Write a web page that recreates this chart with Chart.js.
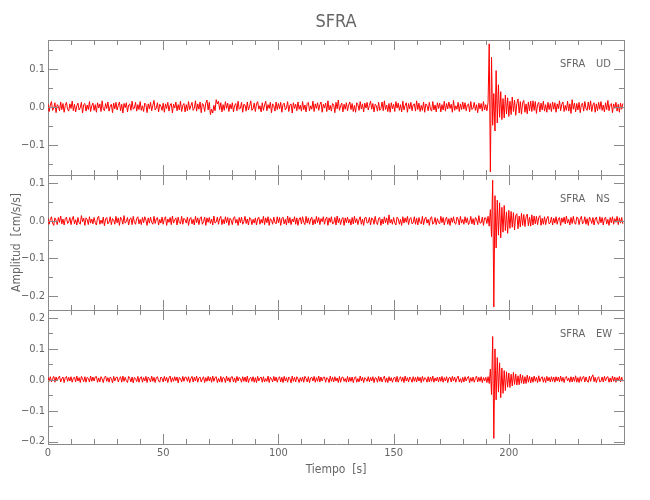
<!DOCTYPE html>
<html>
<head>
<meta charset="utf-8">
<script src="https://cdn.jsdelivr.net/npm/chart.js@4.4.1/dist/chart.umd.min.js"></script>
<style>
    body { margin: 0; background: #fff; }
    #wrap { position: relative; width: 650px; height: 500px; }
    #wrap canvas { position: absolute; left: 0; }
</style>
</head>
<body>
<div id="wrap">
    <canvas id="chartUD" width="650" height="176" style="top:0px"></canvas>
    <canvas id="chartNS" width="650" height="137" style="top:174px"></canvas>
    <canvas id="chartEW" width="650" height="191" style="top:309px"></canvas>
</div>
<script>
// traces in 0.001 cm/s/s, one sample every 0.5 s (one row = 10 s)
const sampleStep = 0.5;
const station = 'SFRA';

const udTrace = [
    8, -12, 5, 14, -9, -3, 11, -15, 6, 2, -10, 13, -7, 9, -14, 4, 12, -6, -11, 8,
    -4, 15, -10, 7, -13, 3, 10, -8, -2, 12, -16, 6, 9, -11, 5, -7, 14, -12, 3, 10,
    -9, 6, -14, 11, -3, 8, -12, 16, -6, -10, 9, -4, 13, -11, 2, 7, -15, 10, -5, 12,
    -8, 4, 13, -10, 7, -16, 9, -2, 11, -13, 5, 8, -9, 15, -6, -3, 12, -11, 6, -7,
    14, -9, 3, -12, 10, 6, -15, 8, -5, 12, -10, 4, 17, -8, -3, 11, -13, 7, 2, -9,
    10, -14, 8, -4, 12, -11, 5, 9, -16, 7, -3, 13, -10, 6, -8, 15, -12, 4, 9, -13,
    6, -10, 14, -7, 3, 12, -9, -4, 16, -11, 8, -6, 13, -15, 9, 5, -12, 10, 18, -8,
    12, -20, -6, -16, 4, -10, 19, 8, 15, -7, 11, -13, 6, -9, 14, -4, 10, -12, 7, -5,
    11, -13, 4, 9, -10, 15, -6, -3, 12, -14, 7, 5, -11, 13, -8, 2, 16, -9, -5, 10,
    -12, 8, 14, -6, 3, -13, 11, -9, 5, 15, -10, 6, -4, 12, -15, 8, 3, -11, 13, -7,
    9, -5, 12, -14, 6, 10, -8, -3, 14, -12, 5, 8, -16, 11, -4, 7, -10, 13, -6, 4,
    -11, 14, -7, 5, -13, 9, 12, -10, 3, -6, 15, -12, 8, -4, 11, -9, 6, 13, -14, 7,
    -3, 10, -12, 16, -8, 4, -11, 9, 6, -15, 12, -5, 18, -9, 3, 10, -13, 7, -6, 11,
    -10, 5, 13, -7, 9, -12, 4, -14, 11, 6, -9, 14, -5, 8, -13, 10, -3, 12, -8, 4,
    15, -6, 9, -13, 7, 3, -11, 12, -9, -4, 13, -10, 16, -7, 5, -12, 9, -14, 11, -5,
    7, -12, 14, -3, 10, -9, 6, -13, 15, -8, 4, 11, -14, 9, -5, 12, -10, 6, 8, -11,
    16, -7, 10, -12, 4, -9, 13, -14, 8, 3, -10, 12, -6, -11, 14, -8, 5, -13, 11, -4,
    10, -13, 6, -8, 15, -11, 9, -5, 13, -4, 7, -14, 17, -9, 3, -6, 12, -12, 8, -7,
    13, -6, 11, -10, 5, 8, -13, 14, -7, -3, 12, -9, 6, -15, 10, -5, 9, -11, 14, -8,
    6, -10, 12, 165, -170, 130, -48, 35, -63, 95, -42, 58, -27, 40, -33, 22, -29, 31, -18, 24,
    -25, 15, -20, 26, -12, 18, -22, 9, 21, -16, 14, -19, 11, 17, -14, 8, -18, 13, -10, 15,
    -12, 16, -9, 14, -17, 7, 12, -13, 10, -8, 15, -11, 6, -14, 12, -7, 9, -12, 13, -6,
    11, -14, 8, -5, 16, -10, 7, 13, -12, 4, -9, 15, -11, 8, -17, 19, -6, 10, -13, 9,
    -8, 12, -15, 6, 10, -11, 14, -4, -9, 13, -7, 16, -12, 5, 11, -14, 8, -10, 12, -6,
    14, -9, 5, -13, 11, -7, 17, -10, 6, 9, -15, 8, -4, 12, -11, 7, -14, 10, -6, 9
];

const nsTrace = [
    7, -9, 4, 11, -6, -12, 8, 2, -10, 9, -4, 13, -8, 5, -11, 6, 10, -7, -3, 9,
    -10, 5, 12, -8, 3, -11, 9, -5, -9, 14, -2, 7, -12, 8, 4, -10, 11, -6, 5, -8,
    9, -4, -11, 8, 12, -9, 2, -7, 10, -13, 5, 9, -8, -3, 11, -10, 6, 3, -9, 12,
    -5, 8, -12, 10, 4, -9, 14, -6, -2, 9, -11, 5, 8, -10, 12, -4, -9, 7, 11, -8,
    4, -10, 9, -5, 11, 2, -12, 8, -6, 10, -4, -9, 12, -7, 5, 9, -11, 4, -6, 10,
    -9, 6, 11, -12, 5, -4, 9, -10, 13, -6, 3, 8, -11, 10, -5, -8, 12, -9, 7, 3,
    -6, 10, -12, 5, 9, -8, 4, -11, 12, -5, 8, -10, 6, 11, -9, -2, 10, -12, 8, -4,
    9, -7, 5, -11, 13, -6, -3, 10, -9, 6, 12, -10, 4, -8, 11, -5, 9, -12, 7, 2,
    -10, 8, 11, -6, 4, -12, 9, -5, 10, -9, -2, 12, -7, 5, -11, 9, 6, -10, 4, -6,
    8, -11, 5, 10, -9, 4, -6, 12, -10, 8, -5, 11, -12, 6, 2, -9, 10, -4, -8, 11,
    -5, 9, -12, 6, 10, -8, 4, -11, 13, -6, 9, -10, 5, -3, 11, -9, 8, -12, 5, 9,
    -8, 11, -4, -10, 12, -6, 8, -9, 5, 10, -11, 4, -8, 12, -5, 9, -10, 6, -2, 11,
    -9, 5, 10, -12, 8, -4, 11, -8, -6, 9, -11, 13, -5, 7, -10, 4, 9, -12, 8, -5,
    10, -6, 4, -11, 9, -8, 12, -5, 6, -10, 3, 11, -9, 5, -12, 8, 10, -6, -4, 9,
    -11, 8, 5, -9, 12, -4, -10, 7, 9, -12, 5, -8, 11, -5, 8, -10, 16, -6, 4, -9,
    9, -5, -11, 10, 6, -9, 4, -12, 11, -6, 8, -4, 12, -10, 5, 9, -8, -5, 11, -9,
    7, -11, 9, -4, -8, 12, -10, 5, 10, -6, 4, -12, 8, 11, -9, -5, 9, -10, 6, -4,
    -8, 12, -5, 9, -11, 4, 10, -9, 6, -12, 8, -4, 11, -6, -9, 10, 5, -11, 12, -6,
    4, -9, 11, -5, 8, -10, -4, 12, -8, 6, -11, 9, 5, -10, 14, -6, -5, 10, -12, 8,
    8, -7, 12, -14, 30, -42, 108, -229, 67, -72, 55, -38, 48, -45, 36, -30, 41, -26, 24, -33,
    28, -20, 25, -17, 22, -24, 15, 19, -21, 13, -16, 20, -12, 17, -15, 11, 18, -13, 10, -14,
    16, -11, 13, -8, 12, -10, 9, 14, -12, 7, -9, 11, -10, 6, 12, -8, -5, 10, -11, 7,
    -6, 11, -9, 5, 9, -12, 8, -4, 10, -8, 13, -6, 4, -11, 9, -7, 12, -5, -9, 10,
    8, -10, 5, 12, -8, -4, 11, -9, 6, -12, 10, 4, -7, 9, -11, 5, 10, -6, -9, 11,
    -5, 9, -11, 6, 10, -8, 4, -12, 9, -5, 11, -9, 6, -4, 12, -10, 8, -6, 9, -8
];

const ewTrace = [
    8, -5, 10, -7, 4, 11, -8, 9, -4, 6, 12, -7, 3, 9, -9, 7, 11, -5, 8, -4,
    10, -8, 5, 9, -7, 12, -4, 7, -9, 11, 3, -6, 10, -8, 8, 4, -7, 12, -5, 9,
    -4, 9, 11, -8, 6, -7, 10, 3, -9, 8, 12, -5, 7, -8, 9, 4, -10, 11, -4, 7,
    9, -7, 4, 10, -8, 12, -5, 8, -3, -9, 11, 5, -7, 9, -10, 8, 4, -6, 11, -8,
    6, 10, -8, 7, -4, 11, -9, 9, 3, -7, 12, -5, 8, -9, 7, 10, -4, -8, 9, 5,
    -7, 11, -4, 8, -9, 6, 12, -8, 7, -5, 10, -3, 9, -10, 8, 4, -7, 11, -5, 9,
    8, -5, 10, -9, 4, 11, -7, 8, -4, 12, -8, 6, 9, -7, 3, 10, -9, 7, -5, 11,
    -4, 9, -8, 12, -5, 7, 10, -9, 4, -7, 11, -8, 8, 5, -9, 12, -4, 7, -8, 9,
    10, -7, 6, -9, 11, -4, 8, 3, -8, 10, -5, 9, -7, 12, -9, 4, 8, -5, 10, -8,
    7, -9, 11, -4, 6, 9, -8, 10, -7, 4, -5, 12, -9, 8, 3, -7, 11, -4, 9, -8,
    5, 10, -7, 8, -9, 11, -4, 7, -8, 9, 4, -10, 12, -5, 8, -7, 10, 3, -9, 7,
    -5, 9, -8, 11, 4, -7, 10, -9, 6, 8, -4, 11, -8, 7, -5, 12, -7, 9, -4, 8,
    9, -8, 7, 4, -9, 12, -5, 8, -7, 10, -4, 6, -9, 11, -8, 7, 9, -5, 4, -8,
    11, -7, 8, -5, 9, -9, 6, 10, -8, 4, -7, 12, -4, 8, -9, 7, 3, -5, 10, -7,
    8, -4, 10, -9, 7, 5, -8, 11, -5, 9, -7, 4, 12, -8, 6, -9, 10, -4, 7, -8,
    5, 9, -7, 11, -8, 4, 10, -5, 8, -9, 12, -4, 7, -7, 9, 3, -8, 10, -5, 8,
    -7, 10, -4, 8, -9, 11, -5, 7, 4, -8, 10, -7, 9, -5, 12, -8, 6, -4, 9, -7,
    9, -5, 11, -8, 7, -4, 10, -9, 6, 8, -7, 11, -4, 9, -8, 5, 12, -7, 4, -9,
    8, -7, 10, -4, 6, 11, -9, 7, -5, 9, -8, 4, 12, -7, 8, -5, 10, -9, 7, -4,
    8, -9, 10, -12, 35, -48, 140, -190, 100, -65, 72, -40, 55, -58, 38, -44, 30, -35, 26, -24,
    22, -25, 18, -20, 24, -15, 19, -17, 13, -16, 18, -11, 14, -13, 10, -12, 15, -8, 11, -10,
    9, -8, 12, -5, 8, -9, 13, -6, 5, 10, -8, 7, -9, 11, -4, 8, -7, 10, -5, 9,
    -8, 10, -4, 9, -7, 12, -5, 8, -9, 7, 11, -4, 6, -8, 10, -7, 9, -5, 13, -8,
    7, -9, 10, -5, 8, 11, -7, 9, -4, -8, 12, -5, 9, 16, -6, 8, -9, 5, 10, -7,
    -5, 9, -7, 11, -4, 8, 10, -8, 6, -7, 12, -5, 9, -8, 7, -4, 11, -7, 8, -5
];

const timeTicks = [0, 50, 100, 150, 200];
const udTicks = [-0.1, 0.0, 0.1];
const nsTicks = [-0.2, -0.1, 0.0, 0.1];
const ewTicks = [-0.2, -0.1, 0.0, 0.1, 0.2];
const udRange = [-0.178, 0.175];
const nsRange = [-0.237, 0.122];
const ewRange = [-0.208, 0.226];

const textColor = '#666';
const lineColor = '#8a8a8a';
const fontFamily = "'Liberation Sans Narrow', 'DejaVu Sans Condensed', sans-serif";

// inward tick marks on all four sides plus the station/component label
const panelFrame = {
    id: 'panelFrame',
    afterDraw(chart, args, opts) {
        const ctx = chart.ctx;
        const a = chart.chartArea;
        const x = chart.scales.x;
        const y = chart.scales.y;
        ctx.save();
        ctx.strokeStyle = lineColor;
        ctx.lineWidth = 1;
        ctx.beginPath();
        for (let t = 10; t < x.max; t += 10) {
            const px = Math.round(x.getPixelForValue(t)) + 0.5;
            const len = t % 50 === 0 ? 10 : 5;
            ctx.moveTo(px, a.bottom);
            ctx.lineTo(px, a.bottom - len);
            ctx.moveTo(px, a.top);
            ctx.lineTo(px, a.top + len);
        }
        for (let k = Math.ceil(y.min / 0.05); k * 0.05 <= y.max; k++) {
            const py = Math.round(y.getPixelForValue(k * 0.05)) + 0.5;
            const len = k % 2 === 0 ? 10 : 5;
            ctx.moveTo(a.left, py);
            ctx.lineTo(a.left + len, py);
            ctx.moveTo(a.right, py);
            ctx.lineTo(a.right - len, py);
        }
        ctx.stroke();
        ctx.fillStyle = textColor;
        ctx.font = '11px ' + fontFamily;
        ctx.textBaseline = 'alphabetic';
        ctx.fillText(station, 560, a.top + 27);
        ctx.fillText(opts.code, 596, a.top + 27);
        ctx.restore();
    }
};

// fixed box sizes so the three panels line up and touch
function _fixBox(scale, width, height) {
    if (width !== null) scale.width = width;
    if (height !== null) scale.height = height;
    scale.paddingLeft = 0;
    scale.paddingRight = 0;
    scale.paddingTop = 0;
    scale.paddingBottom = 0;
}

function _createPanelChart(elementId, trace, code, range, yTicks, layout) {
    return new Chart(document.getElementById(elementId), {
        type: 'line',
        data: {
            datasets: [{
                data: trace.map((v, i) => ({x: i * sampleStep, y: v / 1000})),
                borderColor: '#ff0000',
                borderWidth: 1,
                pointRadius: 0,
                tension: 0,
                fill: false
            }]
        },
        options: {
            responsive: false,
            animation: false,
            devicePixelRatio: 1,
            events: [],
            layout: {
                padding: 0
            },
            plugins: {
                legend: {display: false},
                tooltip: {enabled: false},
                title: {
                    display: layout.title,
                    text: station,
                    fullSize: false,
                    color: textColor,
                    font: {family: fontFamily, size: 18, weight: 'normal', lineHeight: 1},
                    padding: {top: 13, bottom: 0}
                },
                panelFrame: {
                    code: code
                }
            },
            scales: {
                x: {
                    type: 'linear',
                    position: 'bottom',
                    min: 0,
                    max: 250,
                    grid: {display: false, drawTicks: false},
                    border: {display: true, color: lineColor},
                    afterBuildTicks: function(scale) {
                        scale.ticks = timeTicks.map(v => ({value: v}));
                    },
                    ticks: {
                        display: layout.xLabels,
                        color: textColor,
                        padding: 3,
                        maxRotation: 0,
                        autoSkip: false,
                        font: {family: fontFamily, size: 11}
                    },
                    title: {
                        display: layout.xLabels,
                        text: 'Tiempo  [s]',
                        color: textColor,
                        font: {family: fontFamily, size: 12},
                        padding: {top: 0, bottom: 23}
                    },
                    afterFit: function(scale) {
                        _fixBox(scale, null, layout.bottom);
                    }
                },
                xTop: {
                    type: 'linear',
                    position: 'top',
                    min: 0,
                    max: 250,
                    grid: {display: false, drawTicks: false},
                    border: {display: true, color: lineColor},
                    ticks: {display: false},
                    afterFit: function(scale) {
                        _fixBox(scale, null, layout.top);
                    }
                },
                y: {
                    type: 'linear',
                    position: 'left',
                    min: range[0],
                    max: range[1],
                    grid: {display: false, drawTicks: false},
                    border: {display: true, color: lineColor},
                    afterBuildTicks: function(scale) {
                        scale.ticks = yTicks.map(v => ({value: v}));
                    },
                    ticks: {
                        color: textColor,
                        padding: 3,
                        font: {family: fontFamily, size: 11},
                        callback: function(value) {
                            return value.toFixed(1).replace('-', '\u2212');
                        }
                    },
                    title: {
                        display: layout.yTitle,
                        text: 'Amplitud  [cm/s/s]',
                        color: textColor,
                        font: {family: fontFamily, size: 12},
                        padding: {top: 10, bottom: 0}
                    },
                    afterFit: function(scale) {
                        _fixBox(scale, 48, null);
                    }
                },
                yRight: {
                    type: 'linear',
                    position: 'right',
                    min: range[0],
                    max: range[1],
                    grid: {display: false, drawTicks: false},
                    border: {display: true, color: lineColor},
                    ticks: {display: false},
                    afterFit: function(scale) {
                        _fixBox(scale, 26, null);
                    }
                }
            }
        },
        plugins: [panelFrame]
    });
}

_createPanelChart('chartUD', udTrace, 'UD', udRange, udTicks,
    {title: true, top: 9, bottom: 1, xLabels: false, yTitle: false});
_createPanelChart('chartNS', nsTrace, 'NS', nsRange, nsTicks,
    {title: false, top: 1, bottom: 1, xLabels: false, yTitle: true});
_createPanelChart('chartEW', ewTrace, 'EW', ewRange, ewTicks,
    {title: false, top: 1, bottom: 56, xLabels: true, yTitle: false});
</script>
</body>
</html>
